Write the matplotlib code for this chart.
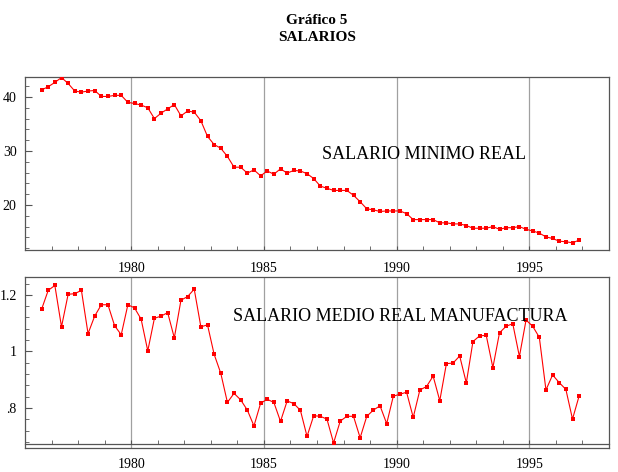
#!/bin/env python
# Grafico 5: salarios reales (minimo y medio en manufactura), datos trimestrales
# two stacked panels in the old stata look, saved as out.png

import numpy as np
import matplotlib
matplotlib.use('Agg')
import matplotlib.pyplot as plt
from matplotlib.ticker import MultipleLocator, FixedLocator, FixedFormatter

plt.rcParams['font.family'] = ['Liberation Serif', 'DejaVu Serif']

# quarterly series, 1976 III to 1996 IV
first_quarter = 1976.625
minimo = [41.3, 41.9, 42.7, 43.6, 42.5, 41.1, 40.9, 41.1, 41.2, 40.1, 40.1, 40.3,
          40.3, 39.0, 38.8, 38.5, 38.0, 36.0, 37.0, 37.8, 38.6, 36.5, 37.4, 37.2,
          35.6, 32.7, 31.2, 30.5, 29.0, 27.0, 27.0, 25.9, 26.5, 25.4, 26.3, 25.7,
          26.7, 25.9, 26.4, 26.3, 25.8, 24.9, 23.5, 23.1, 22.7, 22.7, 22.7, 21.8,
          20.6, 19.3, 19.1, 18.8, 18.9, 18.9, 18.9, 18.4, 17.3, 17.3, 17.3, 17.3,
          16.7, 16.7, 16.5, 16.5, 16.2, 15.7, 15.7, 15.7, 16.0, 15.5, 15.8, 15.8,
          16.0, 15.5, 15.2, 14.8, 14.1, 13.8, 13.3, 13.2, 13.0, 13.5]
medio = [1.149, 1.216, 1.233, 1.087, 1.202, 1.204, 1.216, 1.063, 1.125, 1.165,
         1.165, 1.091, 1.059, 1.165, 1.154, 1.114, 1.002, 1.117, 1.125, 1.137,
         1.048, 1.181, 1.194, 1.220, 1.087, 1.094, 0.990, 0.923, 0.820, 0.852,
         0.829, 0.793, 0.737, 0.817, 0.831, 0.820, 0.753, 0.825, 0.816, 0.792,
         0.700, 0.773, 0.771, 0.761, 0.677, 0.754, 0.771, 0.771, 0.695, 0.771,
         0.793, 0.808, 0.745, 0.842, 0.849, 0.856, 0.767, 0.864, 0.876, 0.913,
         0.826, 0.957, 0.959, 0.984, 0.889, 1.035, 1.055, 1.057, 0.943, 1.066,
         1.089, 1.098, 0.982, 1.111, 1.089, 1.050, 0.864, 0.917, 0.890, 0.866,
         0.761, 0.843]

grid_years = [1980, 1985, 1990, 1995]
minimo_ticks = [20, 30, 40]
medio_ticks = [0.8, 1.0, 1.2]
medio_labels = ['.8', '1', '1.2']

FRAME = '#555555'
RED = '#ff0000'


def Quarters(n):
    """x position (middle of each quarter) for n quarters"""
    return first_quarter + 0.25 * np.arange(n)


def Style_Panel(ax, ylim, yticks, ystep, xpad):
    ax.set_xlim(1976, 1998)
    ax.set_ylim(*ylim)
    for s in ax.spines.values():
        s.set_color(FRAME)
        s.set_linewidth(0.9)
    for yr in grid_years:
        ax.axvline(yr, color='#a0a0a0', lw=0.9, zorder=1)
    ax.xaxis.set_major_locator(FixedLocator(grid_years))
    ax.xaxis.set_minor_locator(MultipleLocator(1))
    ax.yaxis.set_major_locator(FixedLocator(yticks))
    ax.yaxis.set_minor_locator(MultipleLocator(ystep))
    ax.tick_params(axis='x', which='both', direction='in', length=3,
                   color=FRAME, labelsize=10, pad=xpad)
    ax.tick_params(axis='y', which='major', direction='in', length=5,
                   color=FRAME, labelsize=10, pad=6)
    ax.tick_params(axis='y', which='minor', direction='in', length=3, color=FRAME)


def Plot_Series(ax, x, y):
    ax.plot(x, y, color=RED, lw=0.8, marker='s', markersize=3.1,
            markeredgewidth=0, zorder=3)


if __name__ == '__main__':

    fig = plt.figure(figsize=(6.18, 4.72), dpi=100)
    W, H = 618.0, 472.0

    # top panel: salario minimo
    ax1 = fig.add_axes([25 / W, 1 - 250 / H, 584 / W, 173 / H])
    Style_Panel(ax1, (11.67, 43.7), minimo_ticks, 2, 9)
    Plot_Series(ax1, Quarters(len(minimo)), minimo)
    ax1.text(1987.2, 29.3, 'SALARIO MINIMO REAL', fontsize=13,
             ha='left', va='center')

    # bottom panel: salario medio manufactura
    ax2 = fig.add_axes([25 / W, 1 - 448 / H, 584 / W, 171 / H])
    Style_Panel(ax2, (0.659, 1.263), medio_ticks, 0.04, 10)
    ax2.yaxis.set_major_formatter(FixedFormatter(medio_labels))
    ax2.spines['bottom'].set_position(('data', 0.673))
    ax2.plot([0, 1], [0, 0], transform=ax2.transAxes, color=FRAME,
             lw=0.9, clip_on=False)
    Plot_Series(ax2, Quarters(len(medio)), medio)
    ax2.text(1983.85, 1.122, 'SALARIO MEDIO REAL MANUFACTURA', fontsize=13,
             ha='left', va='center')

    fig.text(317 / W, 1 - 20.7 / H, 'Gráfico 5', fontsize=11,
             fontweight='bold', ha='center', va='center')
    fig.text(317 / W, 1 - 37.7 / H, 'SALARIOS', fontsize=11,
             fontweight='bold', ha='center', va='center')

    fig.savefig('out.png', dpi=100)
    plt.close()
